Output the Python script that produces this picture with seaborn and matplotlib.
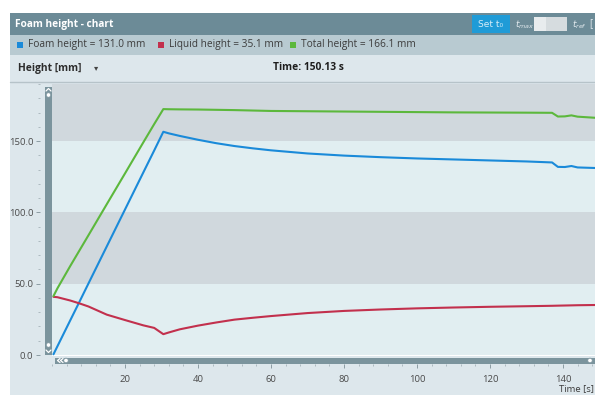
import matplotlib
matplotlib.use("Agg")
import matplotlib.pyplot as plt
from matplotlib.patches import Rectangle, Circle
from matplotlib.ticker import MultipleLocator, FixedLocator
import pandas as pd
import seaborn as sns

# ---- measurement data -------------------------------------------------------
time_s = [0.4, 1.5, 5, 7.5, 10, 15, 20, 25, 28, 30.5, 32, 35, 40, 45, 50, 55,
          60, 70, 80, 90, 100, 110, 120, 130, 137, 138.6, 140.5, 142.3, 144,
          150.13]
foam_mm = [0.5, 6.2, 24.3, 37.2, 50.2, 76.1, 102.0, 127.9, 143.4, 156.5,
           155.4, 153.6, 150.9, 148.5, 146.5, 144.9, 143.5, 141.3, 139.8,
           138.7, 137.8, 137.1, 136.4, 135.7, 135.0, 131.9, 131.8, 132.5,
           131.5, 131.0]
liquid_mm = [40.8, 40.5, 38.2, 36.2, 34.0, 28.3, 24.5, 20.8, 19.0, 14.6,
             15.8, 18.0, 20.6, 22.8, 24.8, 26.1, 27.3, 29.4, 30.9, 31.9, 32.7,
             33.3, 33.8, 34.2, 34.5, 34.6, 34.7, 34.8, 34.9, 35.1]
total_mm = [41.3, 46.8, 62.4, 73.2, 84.0, 105.7, 127.3, 149.0, 161.9, 172.4,
            172.3, 172.2, 172.1, 171.9, 171.7, 171.4, 171.1, 170.9, 170.7,
            170.5, 170.3, 170.1, 170.0, 169.9, 169.8, 167.2, 167.3, 168.0,
            167.1, 166.1]

series_names = ["Foam height", "Liquid height", "Total height"]
series_colors = ["#1a8ad9", "#c2304d", "#5cb83c"]
y_ticks = [0, 50, 100, 150]
x_ticks = [20, 40, 60, 80, 100, 120, 140]
band_edges = [0, 50, 100, 150, 190]

# ---- styling -----------------------------------------------------------------
sns.set_style("white")
plt.rcParams["font.family"] = ["Open Sans", "DejaVu Sans"]

W, H = 595, 395
fig = plt.figure(figsize=(W / 100, H / 100), dpi=100)

panel_bg = "#dde7ec"
title_bg = "#6c8b97"
legend_bg = "#b8cad1"
bar_col = "#7b949d"
text_col = "#3c3c3c"

# background panel drawn in pixel coordinates
bg = fig.add_axes([0, 0, 1, 1], zorder=0)
bg.set_xlim(0, W)
bg.set_ylim(H, 0)
bg.axis("off")
bg.add_patch(Rectangle((10, 13), W - 10, H - 13, color=panel_bg, lw=0))
bg.add_patch(Rectangle((10, 13), W - 10, 22, color=title_bg, lw=0))
bg.add_patch(Rectangle((10, 35), W - 10, 20, color=legend_bg, lw=0))
bg.plot([10, W], [82, 82], color="#b6c3c9", lw=1)

bg.text(15, 24.5, "Foam height - chart", color="white", fontsize=7.3,
        fontweight="bold", va="center", ha="left")

# toolbar controls
bg.add_patch(Rectangle((472, 15), 38, 18, color="#1f9bd7", lw=0))
bg.text(491, 24.5, "Set t\u2080", color="#d9eef8", fontsize=6.5,
        va="center", ha="center", family=["DejaVu Sans"])
bg.text(515, 25, r"$t_{max}$", color="#e2eaee", fontsize=6.5,
        va="center", ha="left")
bg.add_patch(Rectangle((534, 17), 33, 14, color="#d6dcdf", lw=0))
bg.add_patch(Rectangle((534, 17), 12, 14, color="#e8ecee", lw=0))
bg.text(572, 25, r"$t_{ref}$", color="#e2eaee", fontsize=6.5,
        va="center", ha="left")
bg.text(589, 24, "[", color="#e2eaee", fontsize=7, va="center", ha="left")

# legend row built from the final values of each series
final_vals = [foam_mm[-1], liquid_mm[-1], total_mm[-1]]
legend_x = [17, 158, 290]
for x0, name, val, col in zip(legend_x, series_names, final_vals,
                              series_colors):
    bg.add_patch(Rectangle((x0, 41.5), 6, 6, color=col, lw=0))
    bg.text(x0 + 11, 45, f"{name} = {val:.1f} mm", color=text_col,
            fontsize=7.3, va="center", ha="left")

bg.text(18, 68, "Height [mm]", color="#2c2c2c", fontsize=7.4,
        fontweight="bold", va="center", ha="left")
bg.text(94, 67.5, "\u25be", color="#444444", fontsize=6, va="center",
        ha="left", family=["DejaVu Sans"])
bg.text(273, 68, f"Time: {time_s[-1]:.2f} s", color="#1e1e1e",
        fontsize=7.4, fontweight="bold", va="center", ha="left")
bg.text(594, 389, "Time [s]", color=text_col, fontsize=6.8, va="center",
        ha="right")

# ---- chart -----------------------------------------------------------------
left_px, right_px, top_px, bottom_px = 52, 598, 84, 356
ax = fig.add_axes([left_px / W, 1 - bottom_px / H,
                   (right_px - left_px) / W, (bottom_px - top_px) / H],
                  zorder=1)
ax.set_xlim(0, (right_px - left_px) / 3.65)
ax.set_ylim(-0.7, 190)

band_colors = ["#e1eef1", "#d0d8dd"]
for i in range(len(band_edges) - 1):
    ax.axhspan(band_edges[i], band_edges[i + 1],
               color=band_colors[i % 2], lw=0, zorder=0)

df = pd.DataFrame({
    "time": time_s * 3,
    "height": foam_mm + liquid_mm + total_mm,
    "series": [n for n in series_names for _ in time_s],
})
sns.lineplot(data=df, x="time", y="height", hue="series",
             hue_order=series_names, palette=series_colors,
             linewidth=1.5, legend=False, ax=ax, zorder=3)

ax.set_xlabel("")
ax.set_ylabel("")
for s in ax.spines.values():
    s.set_visible(False)
ax.spines["left"].set_position(("outward", 8.5))
ax.spines["bottom"].set_position(("outward", 6))

ax.yaxis.set_major_locator(FixedLocator(y_ticks))
ax.set_yticklabels([f"{v:.1f}" for v in y_ticks])
ax.yaxis.set_minor_locator(MultipleLocator(10))
ax.xaxis.set_major_locator(FixedLocator(x_ticks))
ax.set_xticklabels([str(v) for v in x_ticks])
ax.xaxis.set_minor_locator(MultipleLocator(4))

ax.tick_params(axis="both", which="major", direction="out", length=3,
               width=0.7, color="#8c9ca3", labelsize=6.8,
               labelcolor="#4a4a4a", left=True, bottom=True)
ax.tick_params(axis="y", which="major", pad=2)
ax.tick_params(axis="x", which="major", pad=5)
ax.tick_params(axis="both", which="minor", direction="out", length=1.6,
               width=0.6, color="#a4b2b8", left=True, bottom=True)

# ---- scrollbars overlay ------------------------------------------------------
ov = fig.add_axes([0, 0, 1, 1], zorder=5)
ov.set_xlim(0, W)
ov.set_ylim(H, 0)
ov.axis("off")
ov.patch.set_alpha(0)

# vertical scrollbar
ov.add_patch(Rectangle((45, 87), 7, 268, color=bar_col, lw=0))
ov.add_patch(Circle((48.5, 95), 2.3, facecolor="white", edgecolor=bar_col,
                    lw=0.6))
ov.add_patch(Circle((48.5, 345), 2.3, facecolor="white", edgecolor=bar_col,
                    lw=0.6))
ov.plot([46, 48.5, 51], [91, 88.5, 91], color="white", lw=0.9)
ov.plot([46, 48.5, 51], [350, 352.5, 350], color="white", lw=0.9)

# horizontal scrollbar
ov.add_patch(Rectangle((55, 357.5), W - 55, 6, color=bar_col, lw=0))
ov.add_patch(Circle((66, 360.5), 2.3, facecolor="white", edgecolor=bar_col,
                    lw=0.6))
ov.add_patch(Circle((590, 360.5), 2.3, facecolor="white", edgecolor=bar_col,
                    lw=0.6))
ov.plot([60, 57.5, 60], [358.5, 360.5, 362.5], color="white", lw=0.9)
ov.plot([63, 60.5, 63], [358.5, 360.5, 362.5], color="white", lw=0.9)

fig.savefig("out.png", dpi=100)
